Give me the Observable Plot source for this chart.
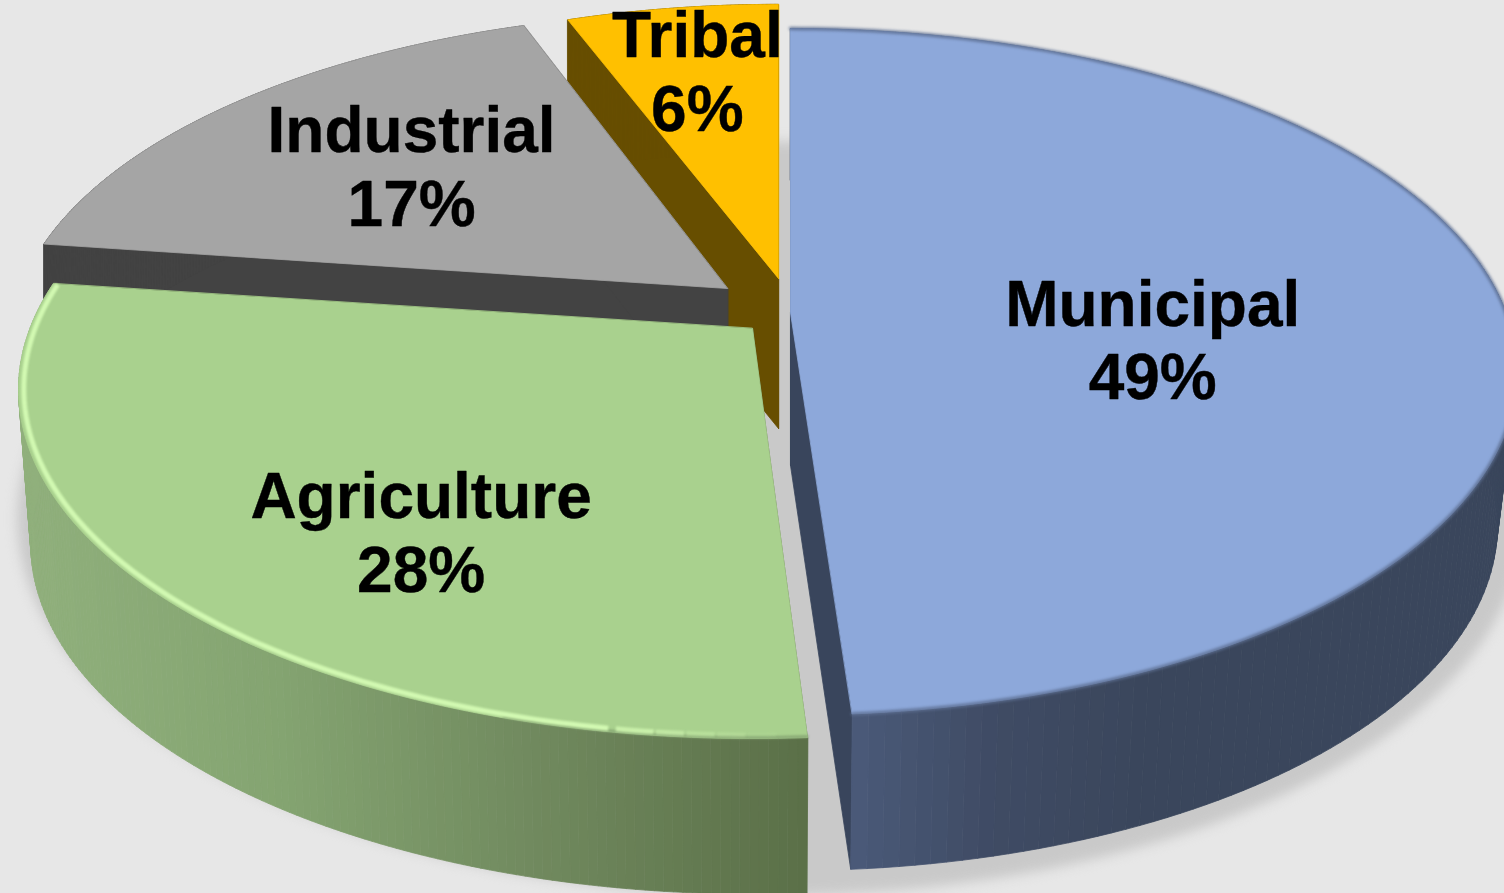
<!DOCTYPE html>
<html><head><meta charset="utf-8">
<style>html,body{margin:0;padding:0;background:#e7e7e7;overflow:hidden}svg{display:block}</style>
<script src="https://cdn.jsdelivr.net/npm/d3@7"></script>
<script src="https://cdn.jsdelivr.net/npm/@observablehq/plot@0.6"></script>
</head><body><div id="chart"></div>
<script>
// Values
const categories = ["Municipal", "Agriculture", "Industrial", "Tribal"];
const shares = [49, 28, 17, 6];
const topColors = ["#8da8da", "#a9d18e", "#a5a5a5", "#ffc000"];
const cutColors = ["#39455c", "#5b7048", "#434343", "#674e00"];
const wallStops = [["#4b5b7a", "#3f4b64", "#3a465c", "#3a465c"], ["#90b07c", "#84a471", "#70895e", "#5b7048"], ["#434343", "#434343"], ["#674e00", "#674e00"]];
// Layout of the exploded slices
const apexX = [790, 752, 727, 778];
const apexY = [312, 328, 288, 278];
const widths = [1.002, 1.012, 0.99, 0.96];
const heights = [1, 1.015, 0.97, 0.96];
const baseWidths = [0.975, 0.995, 0.99, 0.96];
const depths = [153, 153, 153, 150];
const trimStart = [0, 0, 0.9, 0.8];
const trimEnd = [0.5, -0.6, -2.1, 0];
const labelRadius = [0.507, 0.697, 0.611, 0.705];
const labelTurn = [11.4, -9.8, 1.6, 0.4];
const labelLift = -2;
const A = 333, B = 714, P = 0.173;

const project = (cx, cy, rx, ry, deg, drop = 0) => {
  const t = deg * Math.PI / 180, s = Math.sin(t), c = Math.cos(t), w = 1 + P * ry * c;
  return {x: cx + B * rx * s / w, y: cy - A * ry * c / w + drop};
};
const total = d3.sum(shares);
let acc = 0;
const slices = categories.map((name, i) => {
  const a0 = acc / total * 360; acc += shares[i]; const a1 = acc / total * 360;
  return {name, i, cx: apexX[i], cy: apexY[i], rx: widths[i], ry: heights[i], rb: baseWidths[i], depth: depths[i],
    a0: a0 + trimStart[i], a1: a1 - trimEnd[i], mid: (a0 + a1) / 2};
});
const arc = (s, inset = 1, f0 = 0, f1 = 1) => d3.range(f0, f1 + 0.0001, 1 / 160).map(f =>
  project(s.cx, s.cy, s.rx * inset, s.ry * inset, s.a0 + (s.a1 - s.a0) * f));
const base = s => d3.range(0, 1.0001, 1 / 160).map(f =>
  project(s.cx, s.cy, s.rb, s.ry * 1.005, s.a0 + (s.a1 - s.a0) * f, s.depth));
const poly = (id, fill, pts) => pts.map(p => ({...p, id, fill}));

const shadow = d3.range(0, 360, 2).map(a => ({...project(770, 447, 1.035, 1.09, a), id: "s"}));

const sliceParts = i => {
  const s = slices[i], out = [];
  const apex = project(s.cx, s.cy, 0, 0, 0), apexD = project(s.cx, s.cy, 0, 0, 0, s.depth);
  const top = arc(s), bot = base(s);
  out.push(...poly(`a${i}`, cutColors[i], [apex, top[0], bot[0], apexD]));
  out.push(...poly(`b${i}`, cutColors[i], [apex, top[top.length - 1], bot[bot.length - 1], apexD]));
  const tone = d3.piecewise(d3.interpolateRgb, wallStops[i]);
  const xr = i === 0 ? [852, 1300] : [15, 806];
  d3.pairs(d3.range(top.length)).forEach(([a, b]) => {
    const f = Math.min(1, Math.max(0, (top[a].x - xr[0]) / (xr[1] - xr[0])));
    out.push(...poly(`w${i}-${a}`, d3.color(tone(f)).formatHex(), [top[a], top[b], bot[b], bot[a]]));
  });
  out.push(...poly(`t${i}`, topColors[i], [apex, ...top]));
  return out;
};
const piece = i => Plot.line(sliceParts(i), {x: "x", y: "y", z: "id", fill: "fill", stroke: "fill", strokeWidth: 0.8, curve: "linear-closed"});

// Bright bevel on the agriculture rim, fading out towards the front of the pie
const fadeSteps = [0.02, 0.04, 0.06, 0.08, 0.1, 0.13];
const fadeOpacity = [0.1, 0.25, 0.4, 0.6, 0.8, 1];
const bevel = fadeSteps.flatMap((f, k) => arc(slices[1], 0.993, f, fadeSteps[k + 1] ?? 1).map(p => ({...p, seg: k, op: fadeOpacity[k]})));

const labels = slices.map((s, i) => ({
  ...project(s.cx, s.cy, labelRadius[i], labelRadius[i], s.mid + labelTurn[i], labelLift),
  text: `${s.name}\n${shares[i]}%`
}));

const chart = Plot.plot({
  width: 1504, height: 893, margin: 0,
  style: {background: "#e7e7e7"},
  x: {domain: [0, 1504], range: [0, 1504], axis: null},
  y: {domain: [0, 893], range: [0, 893], axis: null},
  color: {type: "identity"},
  opacity: {type: "identity"},
  marks: [
    Plot.line(shadow, {x: "x", y: "y", z: "id", fill: "#c9c9c9", stroke: "#c9c9c9", curve: "linear-closed", imageFilter: "blur(6px)"}),
    piece(3),
    piece(2),
    piece(0),
    Plot.line(arc(slices[0]), {x: "x", y: "y", stroke: "#5d6f92", strokeWidth: 3, imageFilter: "blur(1.5px)"}),
    piece(1),
    Plot.line(arc(slices[1], 0.998, 0, 0.2), {x: "x", y: "y", stroke: "#86a573", strokeWidth: 2.5, imageFilter: "blur(1.2px)"}),
    Plot.line(bevel, {x: "x", y: "y", z: "seg", stroke: "#d2f9b2", strokeOpacity: "op", strokeWidth: 5, strokeLinecap: "butt", imageFilter: "blur(1.2px)"}),
    Plot.text(labels, {x: "x", y: "y", text: "text", fontFamily: "Liberation Sans", fontWeight: "bold", fontSize: 64, lineHeight: 1.15, lineAnchor: "middle", textAnchor: "middle", fill: "#000", stroke: "#000", strokeWidth: 0.4})
  ]
});
document.getElementById("chart").appendChild(chart);
</script></body></html>
